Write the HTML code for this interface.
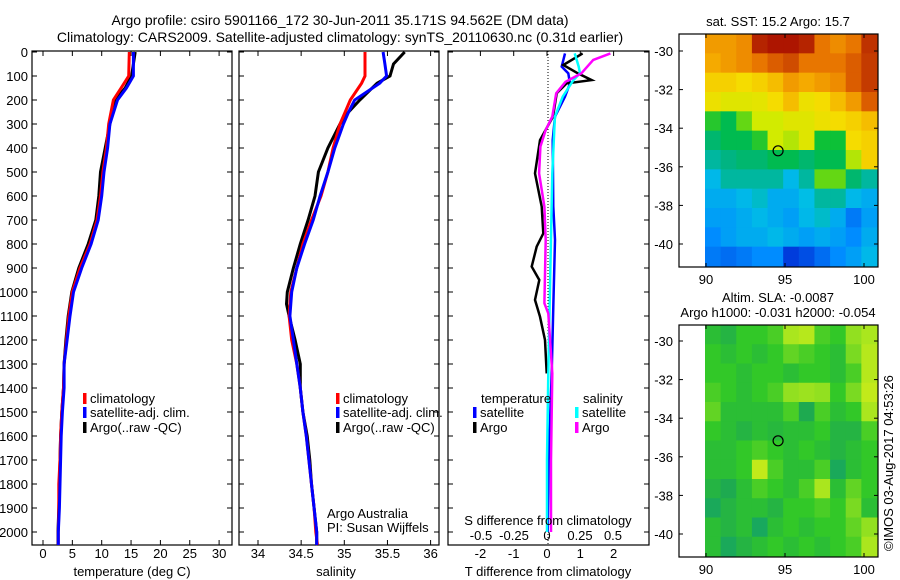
<!DOCTYPE html>
<html><head><meta charset="utf-8">
<style>
html,body{margin:0;padding:0;background:#fff;}
svg{display:block;font-family:"Liberation Sans",sans-serif;}
</style></head>
<body>
<svg id="fig" width="900" height="580" viewBox="0 0 900 580" xmlns="http://www.w3.org/2000/svg">
<rect width="900" height="580" fill="#fff"/>
<text x="340" y="25" font-size="14" text-anchor="middle">Argo profile: csiro 5901166_172 30-Jun-2011 35.171S 94.562E (DM data)</text>
<text x="340" y="42" font-size="14" text-anchor="middle">Climatology: CARS2009. Satellite-adjusted climatology: synTS_20110630.nc (0.31d earlier)</text>
<g id="g"></g>
</svg>
<script>
// ---- profile data ----
const tempDepth = [0,100,150,200,300,400,500,600,700,800,900,1000,1100,1200,1300,1400,1500,1600,1700,1800,1900,2000,2054];
const tempArgo = [15.7,15.1,14.0,12.3,11.4,10.6,9.8,9.5,9.0,7.7,6.1,4.9,4.3,3.9,3.6,3.5,3.2,3.0,2.9,2.8,2.7,2.55,2.55];
const tempClim = [14.7,14.6,13.3,12.0,11.2,10.8,10.2,9.8,9.2,8.0,6.3,5.0,4.4,4.0,3.6,3.5,3.2,3.0,2.9,2.7,2.7,2.6,2.6];
const tempSat = [15.4,15.4,14.2,12.7,11.4,11.0,10.4,10.0,9.4,8.2,6.6,5.2,4.6,4.1,3.6,3.6,3.3,3.1,3.0,2.9,2.8,2.6,2.6];
const salDepth = [0,50,100,130,200,250,300,400,500,600,700,800,900,1000,1050,1100,1200,1300,1400,1500,1600,1700,1800,1900,2000,2054];
const salArgo = [35.70,35.57,35.53,35.38,35.18,35.05,34.95,34.81,34.70,34.66,34.58,34.49,34.41,34.34,34.33,34.36,34.43,34.49,34.49,34.52,34.57,34.60,34.62,34.65,34.68,34.68];
const salClim = [35.24,35.24,35.24,35.20,35.07,35.01,34.95,34.87,34.81,34.73,34.62,34.52,34.45,34.38,34.37,34.36,34.39,34.45,34.49,34.52,34.56,34.59,34.62,34.65,34.67,34.69];
const salSat = [35.45,35.47,35.49,35.41,35.12,35.05,34.99,34.89,34.81,34.72,34.64,34.54,34.45,34.39,34.38,34.37,34.41,34.45,34.49,34.52,34.56,34.59,34.62,34.65,34.68,34.68];
const tdArgoDepth = [6,54,89,117,131,172,269,367,506,644,756,811,894,950,1033,1103,1200,1339];
const tdArgo = [1.07,0.49,0.93,1.34,0.59,0.29,0.18,-0.21,-0.36,-0.16,-0.11,-0.31,-0.46,-0.23,-0.36,-0.21,-0.06,-0.01];
const tdSatDepth = [6,61,89,131,186,269,367,644,783,1061,1339,1700,2000];
const tdSat = [0.54,0.44,0.64,0.69,0.54,0.24,0.17,0.19,0.24,0.19,0.14,0.05,0.02];
const sdSatDepth = [6,61,89,117,186,269,506,1061,1339,1700,2000];
const sdSat = [0.21,0.24,0.25,0.20,0.12,0.06,0.04,0.02,0.01,0.0,0.0];
const sdArgoDepth = [6,33,89,124,172,269,325,394,506,644,783,1047,1089,1339,1700,2000];
const sdArgo = [0.48,0.35,0.26,0.14,0.07,0.04,-0.01,-0.05,-0.06,-0.02,-0.01,-0.02,0.01,0.04,0.03,0.03];
const depthTicks = [0,100,200,300,400,500,600,700,800,900,1000,1100,1200,1300,1400,1500,1600,1700,1800,1900,2000];
const tempTicks = [0,5,10,15,20,25,30];
const salTicks = [34,34.5,35,35.5,36];
const salTickLabels = ["34","34.5","35","35.5","36"];
const tdTicks = [-2,-1,0,1,2];
const sdTicks = [-0.5,-0.25,0,0.25,0.5];
const sdTickLabels = ["-0.5","-0.25","0","0.25","0.5"];
// ---- map data (normalised colour values, rows N->S, cols W->E) ----
const sstGrid = [
[0.80,0.80,0.82,0.95,0.97,0.97,0.95,0.85,0.82,0.85,0.93],
[0.78,0.80,0.82,0.85,0.88,0.90,0.85,0.85,0.85,0.88,0.92],
[0.72,0.72,0.70,0.72,0.75,0.80,0.78,0.80,0.82,0.88,0.92],
[0.68,0.65,0.65,0.66,0.70,0.75,0.68,0.70,0.75,0.80,0.88],
[0.50,0.45,0.55,0.62,0.62,0.65,0.65,0.68,0.70,0.72,0.75],
[0.42,0.45,0.45,0.50,0.62,0.60,0.65,0.48,0.48,0.70,0.72],
[0.38,0.40,0.42,0.42,0.45,0.45,0.42,0.45,0.45,0.60,0.72],
[0.32,0.38,0.38,0.38,0.38,0.32,0.38,0.55,0.55,0.42,0.38],
[0.30,0.30,0.32,0.35,0.30,0.30,0.33,0.38,0.38,0.32,0.30],
[0.28,0.28,0.30,0.32,0.30,0.28,0.32,0.35,0.30,0.22,0.28],
[0.25,0.28,0.30,0.30,0.32,0.30,0.28,0.30,0.28,0.25,0.30],
[0.22,0.20,0.22,0.25,0.25,0.12,0.15,0.20,0.25,0.28,0.32]];
const slaGrid = [
[0.45,0.40,0.50,0.50,0.55,0.75,0.80,0.55,0.50,0.70,0.75],
[0.50,0.45,0.50,0.45,0.50,0.60,0.55,0.50,0.45,0.65,0.80],
[0.50,0.50,0.45,0.50,0.50,0.45,0.50,0.50,0.45,0.55,0.80],
[0.55,0.50,0.45,0.50,0.55,0.70,0.72,0.70,0.50,0.65,0.85],
[0.60,0.45,0.45,0.45,0.45,0.55,0.35,0.55,0.45,0.50,0.75],
[0.50,0.45,0.40,0.45,0.42,0.45,0.45,0.50,0.40,0.40,0.55],
[0.45,0.45,0.50,0.55,0.50,0.45,0.50,0.45,0.40,0.45,0.50],
[0.45,0.45,0.50,0.85,0.55,0.45,0.45,0.55,0.30,0.45,0.50],
[0.40,0.35,0.45,0.55,0.50,0.45,0.55,0.75,0.45,0.60,0.50],
[0.30,0.40,0.45,0.45,0.40,0.50,0.50,0.55,0.50,0.65,0.45],
[0.45,0.40,0.45,0.28,0.45,0.50,0.45,0.50,0.50,0.60,0.70],
[0.45,0.30,0.40,0.45,0.50,0.45,0.50,0.45,0.50,0.55,0.75]];
const mapLatTicks = [-30,-32,-34,-36,-38,-40];
const mapLonTicks = [90,95,100];
const argoLon = 94.562, argoLat = -35.171;

const NS="http://www.w3.org/2000/svg";
const G=document.getElementById('g');
function mk(tag,attrs,parent){const e=document.createElementNS(NS,tag);for(const k in attrs)e.setAttribute(k,attrs[k]);(parent||G).appendChild(e);return e;}
function txt(x,y,s,attrs,parent){const e=mk('text',Object.assign({x:x,y:y,'font-size':13},attrs||{}),parent);e.textContent=s;return e;}

const Y0=52, YS=0.24, TOP=51, BOT=545;
const yD=d=>Y0+d*YS;
const xT=t=>43+t*5.87;
const xS=s=>258+(s-34)*86.3;
const xTD=t=>547+t*33.3;
const xSD=s=>547+s*132;

function panel(x0,x1,name){
  const g=mk('g',{});
  
  
  mk('rect',{x:x0,y:TOP,width:x1-x0,height:BOT-TOP,fill:'none',stroke:'#000','stroke-width':1.2},g);
  return g;
}
function xticks(g,vals,labels,fx,ytxt,inner,size){
  vals.forEach((v,i)=>{const x=fx(v);
    mk('line',{x1:x,x2:x,y1:TOP,y2:TOP+5,stroke:'#000'},g);
    if(inner!==false) mk('line',{x1:x,x2:x,y1:BOT,y2:BOT-5,stroke:'#000'},g);
    const t=txt(x,ytxt,labels[i],{'text-anchor':'middle','font-size':size||13},g);
    
    
  });
}
function yticks(g,x0,x1,withLabels){
  depthTicks.forEach(d=>{const y=yD(d);
    mk('line',{x1:x0,x2:x0+5,y1:y,y2:y,stroke:'#000'},g);
    mk('line',{x1:x1,x2:x1-5,y1:y,y2:y,stroke:'#000'},g);
    if(withLabels){const t=txt(x0-4,y+5,String(d),{'text-anchor':'end'},g);
      
      }
  });
}
function line(g,depths,vals,fx,color,w,name){
  const pts=depths.map((d,i)=>fx(vals[i]).toFixed(1)+','+yD(d).toFixed(1)).join(' ');
  const p=mk('polyline',{points:pts,fill:'none',stroke:color,'stroke-width':w,'stroke-linejoin':'miter'},g);
  
  
}
function legend(g,x,y,color,label,name){
  mk('rect',{x:x,y:y-10,width:3.5,height:11,fill:color},g);
  const t=txt(x+7,y,label,{},g);
  
  
}

// Panel 1: temperature
const p1=panel(32,232,'temperature-panel');
yticks(p1,32,232,true);
xticks(p1,tempTicks,tempTicks.map(String),xT,558);
line(p1,tempDepth,tempArgo,xT,'#000',3,'argo-temperature-line');
line(p1,tempDepth,tempClim,xT,'#f00',3,'climatology-temperature-line');
line(p1,tempDepth,tempSat,xT,'#00f',3,'satellite-temperature-line');
let t=txt(132,576,'temperature (deg C)',{'text-anchor':'middle'},p1);


legend(p1,83,403,'#f00','climatology','legend-climatology');
legend(p1,83,417,'#00f','satellite-adj. clim.','legend-satellite-adj');
legend(p1,83,432,'#000','Argo(..raw -QC)','legend-argo');

// Panel 2: salinity
const p2=panel(239,439,'salinity-panel');
yticks(p2,239,439,false);
xticks(p2,salTicks,salTickLabels,xS,558);
line(p2,salDepth,salArgo,xS,'#000',3,'argo-salinity-line');
line(p2,salDepth,salClim,xS,'#f00',3,'climatology-salinity-line');
line(p2,salDepth,salSat,xS,'#00f',3,'satellite-salinity-line');
t=txt(336,576,'salinity',{'text-anchor':'middle'},p2);


legend(p2,336,403,'#f00','climatology','legend-climatology');
legend(p2,336,417,'#00f','satellite-adj. clim.','legend-satellite-adj');
legend(p2,336,432,'#000','Argo(..raw -QC)','legend-argo');
t=txt(327,518,'Argo Australia',{},p2);


t=txt(327,532,'PI: Susan Wijffels',{},p2);



// Panel 3: differences
const p3=panel(448,649,'difference-panel');
yticks(p3,448,649,false);
mk('line',{x1:548,x2:548,y1:TOP,y2:BOT,stroke:'#000','stroke-dasharray':'1,2'},p3);
xticks(p3,tdTicks,tdTicks.map(String),xTD,558,false);
sdTicks.forEach((v,i)=>{const tt=txt(xSD(v),540,sdTickLabels[i],{'text-anchor':'middle'},p3);
  
  });
line(p3,tdSatDepth,tdSat,xTD,'#00f',2.5,'t-diff-satellite-line');
line(p3,tdArgoDepth,tdArgo,xTD,'#000',2.5,'t-diff-argo-line');
line(p3,sdSatDepth,sdSat,xSD,'#0ff',2.5,'s-diff-satellite-line');
line(p3,sdArgoDepth,sdArgo,xSD,'#f0f',2.5,'s-diff-argo-line');
t=txt(548,576,'T difference from climatology',{'text-anchor':'middle'},p3);


t=txt(548,525,'S difference from climatology',{'text-anchor':'middle'},p3);


t=txt(481,403,'temperature',{},p3);


t=txt(583,403,'salinity',{},p3);


legend(p3,473,417,'#00f','satellite','legend-t-satellite');
legend(p3,473,432,'#000','Argo','legend-t-argo');
legend(p3,575,417,'#0ff','satellite','legend-s-satellite');
legend(p3,575,432,'#f0f','Argo','legend-s-argo');

// ---- maps ----
function pal(stops,v){v=Math.max(0,Math.min(1,v));
  for(let i=1;i<stops.length;i++){if(v<=stops[i][0]){const a=stops[i-1],b=stops[i];const f=(v-a[0])/(b[0]-a[0]||1);
    return 'rgb('+[1,2,3].map(k=>Math.round(a[k]+(b[k]-a[k])*f)).join(',')+')';}}
  const l=stops[stops.length-1];return 'rgb('+l[1]+','+l[2]+','+l[3]+')';}
const sstStops=[[0,0,0,130],[0.12,0,60,220],[0.25,0,140,255],[0.33,0,190,230],[0.4,0,180,130],[0.47,0,190,60],[0.55,100,215,20],[0.62,210,235,0],[0.7,245,220,0],[0.78,245,170,0],[0.86,230,110,0],[0.93,190,50,0],[1,160,0,0]];
const slaStops=[[0,0,160,150],[0.35,30,170,80],[0.5,50,200,40],[0.75,170,230,30],[1,230,240,20]];

function drawMap(fy0,fy1,yLat30,grid,stops,name,titleLines){
  const g=mk('g',{});
  
  
  const fx0=679,fx1=878,cx0=705,cx1=877;
  const pxLat=19.3, pxLon=15.8;
  const yLat=l=>yLat30+(-30-l)*pxLat;
  const xLon=l=>706+(l-90)*pxLon;
  const nr=grid.length,nc=grid[0].length;
  const ch=(fy1-1-fy0)/nr, cw=(cx1-cx0)/nc;
  grid.forEach((row,r)=>row.forEach((v,c)=>{
    const cell=mk('rect',{x:(cx0+c*cw).toFixed(2),y:(fy0+r*ch).toFixed(2),width:(cw+0.6).toFixed(2),height:(ch+0.6).toFixed(2),fill:pal(stops,v)},g);
    
    
  }));
  mk('rect',{x:fx0,y:fy0,width:fx1-fx0,height:fy1-fy0,fill:'none',stroke:'#000','stroke-width':1.2},g);
  mapLatTicks.forEach(l=>{const y=yLat(l);
    mk('line',{x1:fx0,x2:fx0+4,y1:y,y2:y,stroke:'#000'},g);
    mk('line',{x1:fx1,x2:fx1-4,y1:y,y2:y,stroke:'#000'},g);
    const tt=txt(673,y+5,String(l),{'text-anchor':'end'},g);
    
    });
  mapLonTicks.forEach(l=>{const x=xLon(l);
    mk('line',{x1:x,x2:x,y1:fy0,y2:fy0+4,stroke:'#000'},g);
    mk('line',{x1:x,x2:x,y1:fy1,y2:fy1-4,stroke:'#000'},g);
    const tt=txt(x,fy1+17,String(l),{'text-anchor':'middle'},g);
    
    });
  const m=mk('circle',{cx:xLon(argoLon),cy:yLat(argoLat),r:5,fill:'none',stroke:'#000','stroke-width':1.2},g);
  
  
  titleLines.forEach((s,i)=>{const tt=txt(778,fy0-8-(titleLines.length-1-i)*15,s,{'text-anchor':'middle'},g);
    
    });
}
drawMap(34,267,51,sstGrid,sstStops,'sst-map',['sat. SST: 15.2 Argo: 15.7']);
drawMap(325,557,341,slaGrid,slaStops,'sla-map',['Altim. SLA: -0.0087','Argo h1000: -0.031 h2000: -0.054']);

t=txt(0,0,'\u00A9IMOS 03-Aug-2017 04:53:26',{transform:'translate(893,551) rotate(-90)'});


</script>
</body></html>
